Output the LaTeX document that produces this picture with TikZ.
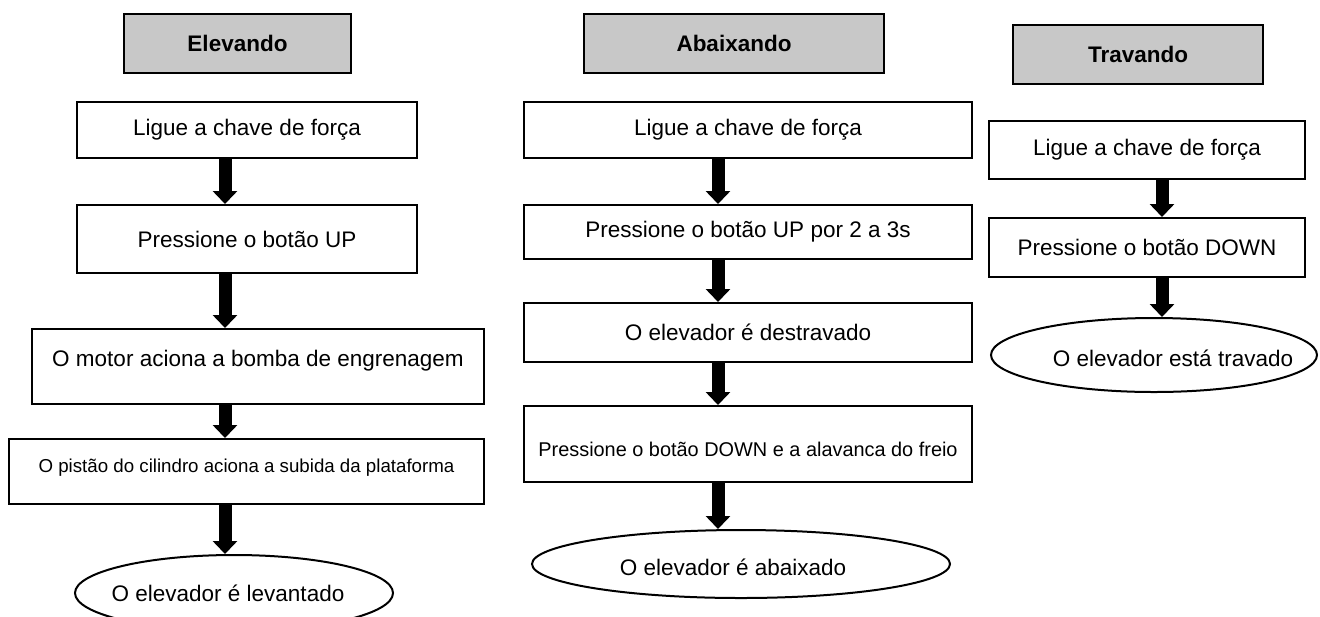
\documentclass[tikz,border=0pt]{standalone}
\usepackage{fontspec}
\setmainfont{Liberation Sans}
\usetikzlibrary{shapes.geometric,arrows.meta}
\definecolor{cinzacab}{RGB}{200,200,200}

\newcommand{\seta}[3]{
\draw[seta] (#1.south -| #3) -- (#2.north -| #3);
}

\begin{document}
\begin{tikzpicture}[x=0.5pt, y=-0.5pt,
  font=\fontsize{11.25}{13.5}\selectfont,
  cabec/.style={draw, line width=1pt, fill=cinzacab, minimum height=29.5pt,
    font=\fontsize{11.25}{13.5}\selectfont\bfseries},
  caixa/.style={draw, line width=1pt, inner sep=2pt},
  fim/.style={draw, ellipse, line width=1pt, inner sep=0pt},
  seta/.style={line width=6.5pt, -{Triangle[width=12pt,length=6.5pt]}}]
\useasboundingbox (0,0) rectangle (1320,616);
\clip (0,0) rectangle (1320,616);

\coordinate (xa) at (225,0);
\coordinate (xb) at (718,0);
\coordinate (xc) at (1162,0);

\node[cabec, minimum width=113.5pt] (h1) at (237.5,43.5) {Elevando};
\node[caixa, minimum width=170pt, minimum height=28pt] (a1) at (247,130) {Ligue a chave de força};
\node[caixa, minimum width=170pt, minimum height=34pt] (a2) at (247,239) {Pressione o botão UP};
\node[caixa, minimum width=226pt, minimum height=37.5pt, text depth=8.5pt] (a3) at (258,366.5) {O motor aciona a bomba de engrenagem};
\node[caixa, minimum width=237.5pt, minimum height=32.5pt, text depth=5.6pt, font=\fontsize{9.35}{11}\selectfont] (a4) at (246.5,471.5) {O pistão do cilindro aciona a subida da plataforma};
\node[fim, minimum width=159pt, minimum height=38pt] (a5) at (234,593) {};
\node (a5t) at (228,593) {O elevador é levantado};

\node[cabec, minimum width=150pt] (h2) at (734,43.5) {Abaixando};
\node[caixa, minimum width=224pt, minimum height=28pt] (b1) at (748,130) {Ligue a chave de força};
\node[caixa, minimum width=224pt, minimum height=27pt] (b2) at (748,232) {Pressione o botão UP por 2 a 3s};
\node[caixa, minimum width=224pt, minimum height=29.5pt] (b3) at (748,332.5) {O elevador é destravado};
\node[caixa, minimum width=224pt, minimum height=38pt, text height=12.5pt, font=\fontsize{9.95}{12}\selectfont] (b4) at (748,444) {Pressione o botão DOWN e a alavanca do freio};
\node[fim, minimum width=209pt, minimum height=34pt] (b5) at (741,564) {};
\node (b5t) at (733,567) {O elevador é abaixado};

\node[cabec, minimum width=125pt] (h3) at (1138,54.5) {Travando};
\node[caixa, minimum width=158pt, minimum height=29pt] (c1) at (1147,150) {Ligue a chave de força};
\node[caixa, minimum width=158pt, minimum height=29.5pt] (c2) at (1147,247.5) {Pressione o botão DOWN};
\node[fim, minimum width=163pt, minimum height=37pt] (c3) at (1154,355) {};
\node (c3t) at (1173,358) {O elevador está travado};

\seta{a1}{a2}{xa}
\seta{a2}{a3}{xa}
\seta{a3}{a4}{xa}
\seta{a4}{a5}{xa}

\seta{b1}{b2}{xb}
\seta{b2}{b3}{xb}
\seta{b3}{b4}{xb}
\seta{b4}{b5}{xb}

\seta{c1}{c2}{xc}
\seta{c2}{c3}{xc}

\end{tikzpicture}
\end{document}
